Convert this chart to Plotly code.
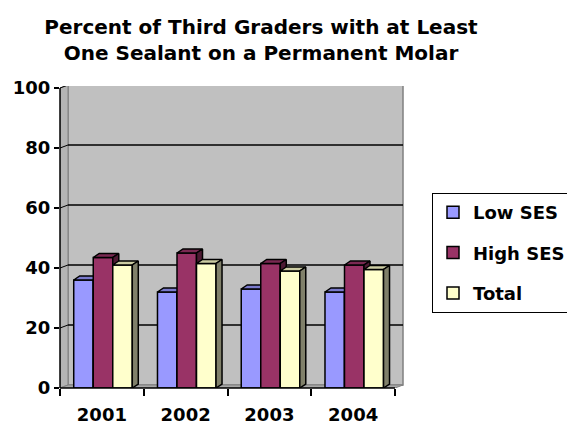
import plotly.graph_objects as go

# ---- data ----
categories = ["2001", "2002", "2003", "2004"]
low_ses = [36, 32, 33, 32]
high_ses = [43.5, 45, 41.5, 41]
total = [41, 41.5, 39, 39.5]
series_names = ["Low SES", "High SES", "Total"]
y_ticks = [0, 20, 40, 60, 80, 100]
title_lines = ["Percent of Third Graders with at Least", "One Sealant on a Permanent Molar"]

# ---- styles ----
front_colors = ["#9999FF", "#993366", "#FFFFCC"]
top_colors = ["#7A7ACC", "#7A2952", "#CCCCA3"]
side_colors = ["#4D4D80", "#4D1A33", "#80806A"]
FONT = "DejaVu Sans"

# ---- geometry ----
x_pos = [1, 2, 3, 4]
px_per_x = 83.75
px_per_y = 3.0
plot_w, plot_h = 344, 302
ml, mt = 60, 86
W, H = 567, 424
x_range = [0.5, 0.5 + plot_w / px_per_x]
y_range = [0, plot_h / px_per_y]
wall_dx, wall_dy = 8 / px_per_x, 3 / px_per_y
bar_dx, bar_dy = 6 / px_per_x, 4 / px_per_y
bar_w = 0.233
offsets = [-0.336, -0.103, 0.130]
x_lo, x_hi = 0.5, 4.5
y_top = y_ticks[-1]

fig = go.Figure()
all_series = [low_ses, high_ses, total]
for i, (name, vals) in enumerate(zip(series_names, all_series)):
    fig.add_trace(go.Bar(
        x=x_pos, y=vals, name=name, width=bar_w, offset=offsets[i],
        marker=dict(color=front_colors[i], line=dict(color="black", width=1.5)),
        legendgroup=name, zorder=2 * i, hoverinfo="skip",
    ))
    tx, ty, sx, sy = [], [], [], []
    for c, v in zip(x_pos, vals):
        x0 = c + offsets[i]
        x1 = x0 + bar_w
        tx += [x0, x0 + bar_dx, x1 + bar_dx, x1, x0, None]
        ty += [v, v + bar_dy, v + bar_dy, v, v, None]
        sx += [x1, x1 + bar_dx, x1 + bar_dx, x1, x1, None]
        sy += [0, bar_dy, v + bar_dy, v, 0, None]
    fig.add_trace(go.Scatter(
        x=tx, y=ty, mode="lines", fill="toself", fillcolor=top_colors[i],
        line=dict(color="black", width=1.5), showlegend=False,
        hoverinfo="skip", zorder=2 * i + 1,
    ))
    fig.add_trace(go.Scatter(
        x=sx, y=sy, mode="lines", fill="toself", fillcolor=side_colors[i],
        line=dict(color="black", width=1.5), showlegend=False,
        hoverinfo="skip", zorder=2 * i + 1,
    ))

shapes = []
# back wall
shapes.append(dict(type="rect", xref="x", yref="y", layer="below",
                   x0=x_lo + wall_dx, x1=x_hi + wall_dx, y0=wall_dy, y1=y_top + wall_dy,
                   fillcolor="#C0C0C0", line=dict(color="#808080", width=1.5)))
# left side wall
shapes.append(dict(type="path", xref="x", yref="y", layer="below",
                   path=f"M{x_lo},0 L{x_lo},{y_top} L{x_lo + wall_dx},{y_top + wall_dy} L{x_lo + wall_dx},{wall_dy} Z",
                   fillcolor="#B4B4B4", line=dict(color="#808080", width=1)))
# floor
shapes.append(dict(type="path", xref="x", yref="y", layer="below",
                   path=f"M{x_lo},0 L{x_hi},0 L{x_hi + wall_dx},{wall_dy} L{x_lo + wall_dx},{wall_dy} Z",
                   fillcolor="#A8A8A8", line=dict(color="#808080", width=1)))
# gridlines on back wall + side wall
for v in y_ticks[1:-1]:
    shapes.append(dict(type="line", xref="x", yref="y", layer="below",
                       x0=x_lo + wall_dx, x1=x_hi + wall_dx, y0=v + wall_dy, y1=v + wall_dy,
                       line=dict(color="black", width=1.5)))
for v in y_ticks[1:]:
    shapes.append(dict(type="line", xref="x", yref="y", layer="below",
                       x0=x_lo, x1=x_lo + wall_dx, y0=v, y1=v + wall_dy,
                       line=dict(color="black", width=1)))
# front axis lines
shapes.append(dict(type="line", xref="paper", yref="y", x0=0, x1=0, y0=0, y1=y_top,
                   line=dict(color="black", width=1.5)))
shapes.append(dict(type="line", xref="x", yref="paper", x0=x_lo, x1=x_hi, y0=0, y1=0,
                   line=dict(color="black", width=1.5)))

fig.update_layout(
    width=W, height=H,
    margin=dict(l=ml, r=W - ml - plot_w, t=mt, b=H - mt - plot_h, pad=0, autoexpand=False),
    paper_bgcolor="white", plot_bgcolor="white",
    barmode="overlay",
    shapes=shapes,
    title=dict(text="<br>".join(title_lines), x=261 / W, xanchor="center",
               xref="container", y=1 - 34 / H, yanchor="top", yref="container",
               font=dict(family=FONT, size=20, color="black", weight="bold")),
    xaxis=dict(range=x_range, tickmode="array", tickvals=x_pos, ticktext=categories,
               ticks="", showgrid=False, zeroline=False, showline=False,
               ticklabelstandoff=14,
               tickfont=dict(family=FONT, size=18, color="black", weight="bold"),
               minor=dict(tickmode="array", tickvals=[0.5, 1.5, 2.5, 3.5, 4.5],
                          ticks="outside", ticklen=7, tickwidth=1.5, tickcolor="black",
                          showgrid=False)),
    yaxis=dict(range=y_range, tickmode="array", tickvals=y_ticks,
               ticks="outside", ticklen=5, tickwidth=1.5, tickcolor="black",
               showgrid=False, zeroline=False, showline=False,
               tickfont=dict(family=FONT, size=18, color="black", weight="bold")),
    legend=dict(x=(432 - ml) / plot_w, xanchor="left", y=(388 - 193) / plot_h, yanchor="top",
                bordercolor="black", borderwidth=1, bgcolor="white",
                tracegroupgap=14, traceorder="grouped",
                font=dict(family=FONT, size=18, color="black", weight="bold")),
)

fig.write_html(
    "out.html",
    config={"displayModeBar": False},
    post_script="document.body.style.margin='0';document.body.style.overflow='hidden';",
)
